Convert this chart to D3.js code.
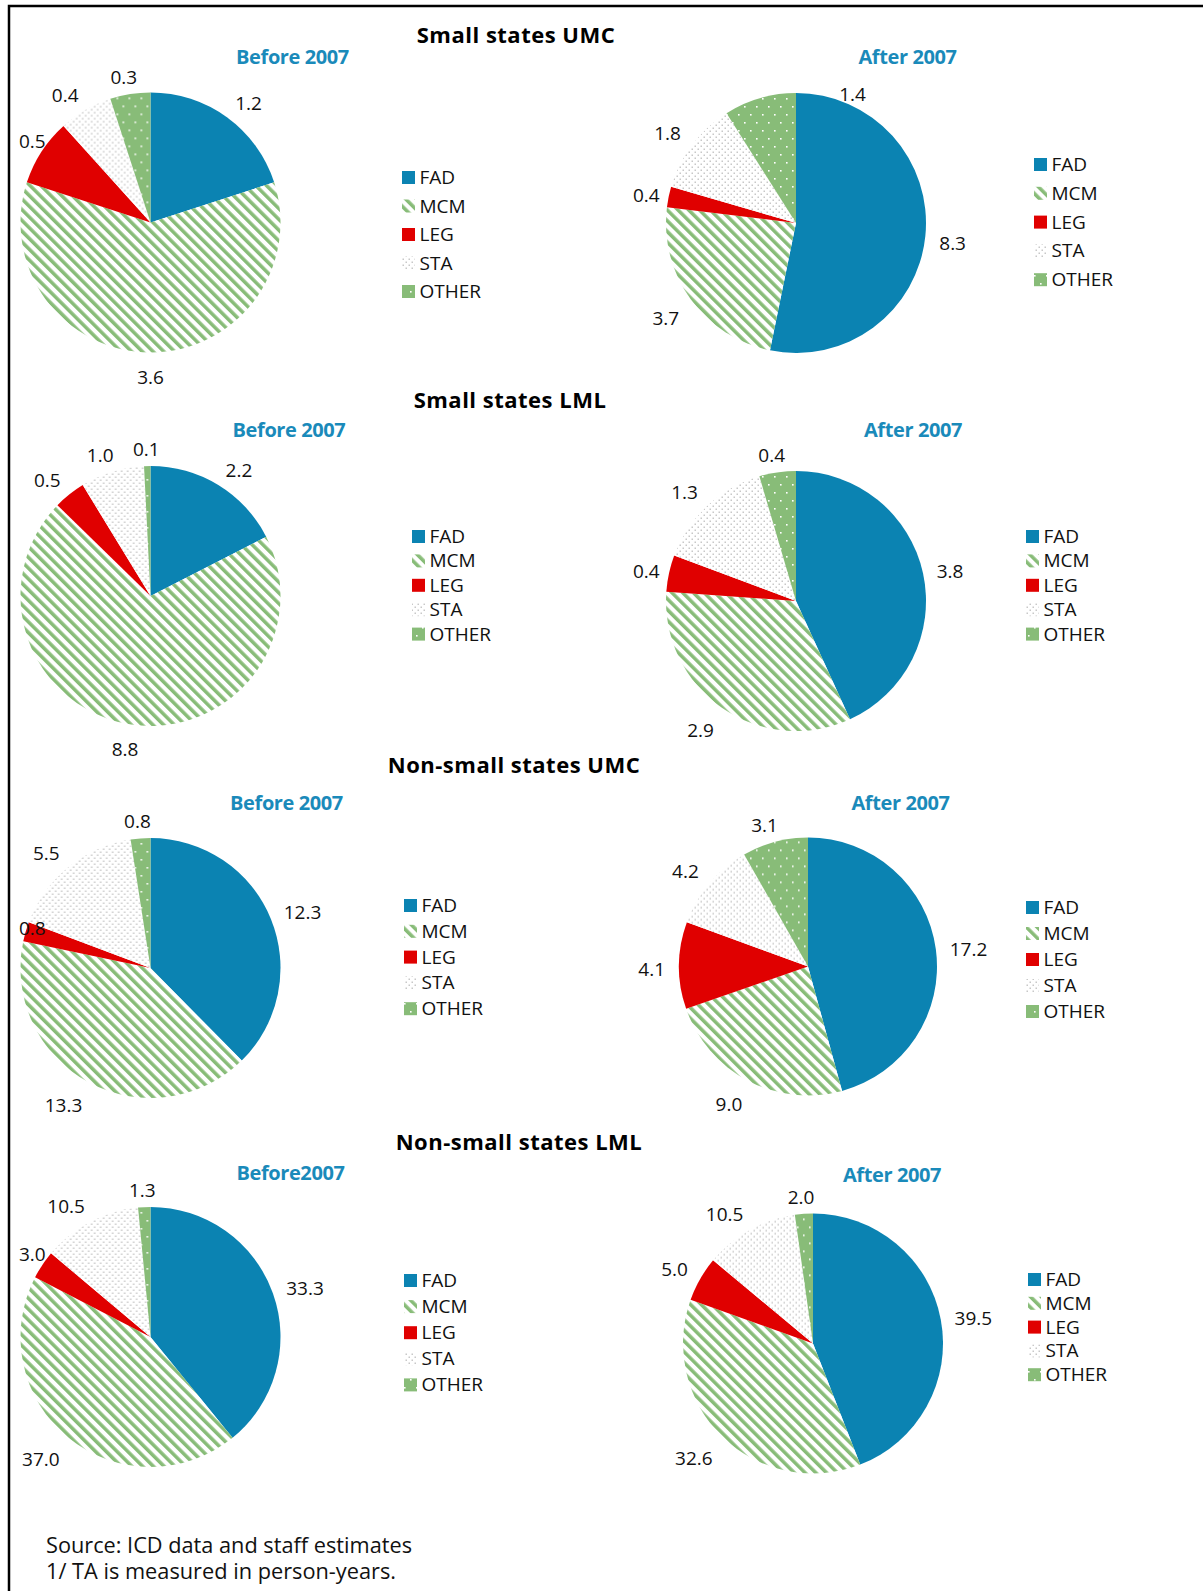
<!DOCTYPE html>
<html>
<head>
<meta charset="utf-8">
<script src="https://cdn.jsdelivr.net/npm/d3@7"></script>
<style>
  html, body { margin: 0; padding: 0; background: #fff; }
  svg { display: block; }
  text { font-family: "Open Sans", "Noto Sans", sans-serif; }
</style>
</head>
<body>
<svg id="chart" width="1203" height="1591"></svg>
<script>
// ---------------- DATA ----------------
const categories = ["FAD", "MCM", "LEG", "STA", "OTHER"];
const groupTitles = ["Small states UMC", "Small states LML", "Non-small states UMC", "Non-small states LML"];
const periodLabels = ["Before 2007", "After 2007", "Before 2007", "After 2007", "Before 2007", "After 2007", "Before2007", "After 2007"];

const smallUMCBefore    = [1.2, 3.6, 0.5, 0.4, 0.3];
const smallUMCAfter     = [8.3, 3.7, 0.4, 1.8, 1.4];
const smallLMLBefore    = [2.2, 8.8, 0.5, 1.0, 0.1];
const smallLMLAfter     = [3.8, 2.9, 0.4, 1.3, 0.4];
const nonSmallUMCBefore = [12.3, 13.3, 0.8, 5.5, 0.8];
const nonSmallUMCAfter  = [17.2, 9.0, 4.1, 4.2, 3.1];
const nonSmallLMLBefore = [33.3, 37.0, 3.0, 10.5, 1.3];
const nonSmallLMLAfter  = [39.5, 32.6, 5.0, 10.5, 2.0];

const seriesByPanel = [smallUMCBefore, smallUMCAfter, smallLMLBefore, smallLMLAfter,
                       nonSmallUMCBefore, nonSmallUMCAfter, nonSmallLMLBefore, nonSmallLMLAfter];

const sourceLines = ["Source: ICD data and staff estimates", "1/ TA is measured in person-years."];

// ---------------- LAYOUT (positions / styles) ----------------
const titleLayout = [{x: 516, y: 43}, {x: 510, y: 408}, {x: 514, y: 773}, {x: 519, y: 1150}];
const panelLayout = [
  {cx: 150.5, cy: 222.5, r: 130, sx: 292.5, sy: 64,   lx: 402,  ly: 184,  ls: 28.5, minX: 19},
  {cx: 796,   cy: 223,   r: 130, sx: 907.5, sy: 64,   lx: 1034, ly: 171,  ls: 28.8, minX: 633},
  {cx: 150.5, cy: 596,   r: 130, sx: 289,   sy: 437,  lx: 412,  ly: 543,  ls: 24.4, minX: 19},
  {cx: 796,   cy: 601,   r: 130, sx: 913,   sy: 437,  lx: 1026, ly: 543,  ls: 24.4, minX: 633},
  {cx: 150.5, cy: 968,   r: 130, sx: 286.5, sy: 810,  lx: 404,  ly: 912,  ls: 25.8, minX: 19},
  {cx: 808,   cy: 966.5, r: 129, sx: 900.5, sy: 810,  lx: 1026, ly: 914,  ls: 26,   minX: 633},
  {cx: 150.5, cy: 1337,  r: 130, sx: 290.5, sy: 1180, lx: 404,  ly: 1287, ls: 26.1, minX: 19},
  {cx: 813,   cy: 1343.5,r: 130, sx: 892,   sy: 1182, lx: 1028, ly: 1286, ls: 23.8, minX: 633}
];
// manual nudge of a data label that was dragged in the original (panel index, category)
const labelNudges = [{panel: 1, cat: "OTHER", dx: 104, dy: 13}];

const FAD_BLUE = "#0B83B2", LEG_RED = "#E00000", GREEN = "#88BC78", SUB_BLUE = "#1A8ABA";
const fillFor = {FAD: FAD_BLUE, MCM: "url(#pMCM)", LEG: LEG_RED, STA: "url(#pSTA)", OTHER: "url(#pOTHER)"};

const svg = d3.select("#chart");
const defs = svg.append("defs");

// MCM: downward diagonal green stripes
const pM = defs.append("pattern").attr("id", "pMCM").attr("patternUnits", "userSpaceOnUse")
  .attr("width", 7.6).attr("height", 7.6).attr("patternTransform", "rotate(-45)");
pM.append("rect").attr("width", 7.6).attr("height", 7.6).attr("fill", "#fff");
pM.append("rect").attr("width", 3.5).attr("height", 7.6).attr("fill", GREEN);

// STA: light grey dots on white
const pS = defs.append("pattern").attr("id", "pSTA").attr("patternUnits", "userSpaceOnUse")
  .attr("width", 6).attr("height", 6);
pS.append("rect").attr("width", 6).attr("height", 6).attr("fill", "#fff");
pS.append("rect").attr("x", 0.5).attr("y", 0.5).attr("width", 1.5).attr("height", 1.5).attr("fill", "#C8C8C8");
pS.append("rect").attr("x", 3.5).attr("y", 3.5).attr("width", 1.5).attr("height", 1.5).attr("fill", "#C8C8C8");

// OTHER: green with white dots
const pO = defs.append("pattern").attr("id", "pOTHER").attr("patternUnits", "userSpaceOnUse")
  .attr("width", 12).attr("height", 16);
pO.append("rect").attr("width", 12).attr("height", 16).attr("fill", GREEN);
pO.append("rect").attr("x", 2).attr("y", 3).attr("width", 1.6).attr("height", 1.6).attr("fill", "#fff");
pO.append("rect").attr("x", 8).attr("y", 11).attr("width", 1.6).attr("height", 1.6).attr("fill", "#fff");

// Border (top + left)
svg.append("path").attr("d", "M9,1591V6H1203").attr("fill", "none")
  .attr("stroke", "#000").attr("stroke-width", 2.5);

// Group titles
svg.selectAll("text.gtitle").data(groupTitles).join("text")
  .attr("class", "gtitle")
  .attr("x", (d, i) => titleLayout[i].x).attr("y", (d, i) => titleLayout[i].y)
  .attr("text-anchor", "middle").attr("font-size", 22).attr("font-weight", 700)
  .attr("letter-spacing", 0.5)
  .attr("fill", "#000").text(d => d);

const pie = d3.pie().sort(null).value(d => d.value).startAngle(0).endAngle(2 * Math.PI);
const labelFont = 19;
const clamp = v => Math.max(-1, Math.min(1, v));

seriesByPanel.forEach((vals, pi) => {
  const L = panelLayout[pi];
  const g = svg.append("g");
  const data = categories.map((c, i) => ({cat: c, value: vals[i]}));
  const arcs = pie(data);
  const arc = d3.arc().innerRadius(0).outerRadius(L.r);

  g.append("g").attr("transform", `translate(${L.cx},${L.cy})`)
    .selectAll("path").data(arcs).join("path")
    .attr("d", arc).attr("fill", d => fillFor[d.data.cat]);

  // subtitle
  g.append("text").attr("x", L.sx).attr("y", L.sy).attr("text-anchor", "middle")
    .attr("font-size", 20).attr("font-weight", 700).attr("fill", SUB_BLUE)
    .attr("letter-spacing", -0.4).text(periodLabels[pi]);

  // data labels (outside end)
  const lab = g.selectAll("text.val").data(arcs).join("text")
    .attr("class", "val").attr("font-size", labelFont).attr("fill", "#111")
    .attr("text-anchor", "middle")
    .text(d => d3.format(".1f")(d.data.value));
  lab.each(function(d) {
    const w = this.getComputedTextLength();
    const h = 14;
    const a = (d.startAngle + d.endAngle) / 2;
    const s = Math.sin(a), c = Math.cos(a);
    const R = L.r + 14;
    let x = L.cx + R * s + clamp(2 * s) * w / 2;
    let y = L.cy - R * c - clamp(2 * c) * h / 2 + 4;
    if (x - w / 2 < L.minX) x = L.minX + w / 2;
    const n = labelNudges.find(k => k.panel === pi && k.cat === d.data.cat);
    if (n) { x += n.dx; y += n.dy; }
    d3.select(this).attr("x", x).attr("y", y + 0.357 * labelFont);
  });

  // legend
  const lg = g.append("g");
  categories.forEach((c, i) => {
    const by = L.ly + i * L.ls;
    lg.append("rect").attr("x", L.lx).attr("y", by - 13).attr("width", 13).attr("height", 13)
      .attr("fill", fillFor[c]);
    lg.append("text").attr("x", L.lx + 17.5).attr("y", by)
      .attr("font-size", 19).attr("fill", "#111").text(c);
  });
});

// Source notes
svg.selectAll("text.src").data(sourceLines).join("text")
  .attr("class", "src")
  .attr("x", 46).attr("y", (d, i) => 1553 + i * 26)
  .attr("font-family", "'Liberation Sans', Arial, sans-serif")
  .attr("font-size", 21).attr("fill", "#111")
  .attr("textLength", (d, i) => i === 0 ? 366 : 350).attr("lengthAdjust", "spacingAndGlyphs")
  .text(d => d);
</script>
</body>
</html>
